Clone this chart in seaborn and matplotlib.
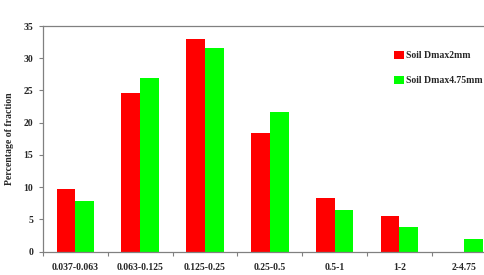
import matplotlib
matplotlib.use("Agg")
import matplotlib.pyplot as plt
import seaborn as sns
import pandas as pd
import numpy as np

categories = ["0.037-0.063", "0.063-0.125", "0.125-0.25", "0.25-0.5", "0.5-1", "1-2", "2-4.75"]
soil_2mm = [9.7, 24.6, 33.0, 18.4, 8.3, 5.6, 0.0]
soil_475mm = [7.9, 27.0, 31.6, 21.6, 6.5, 3.8, 2.0]
series_names = ["Soil Dmax2mm", "Soil Dmax4.75mm"]
y_ticks = [0, 5, 10, 15, 20, 25, 30, 35]

df = pd.DataFrame({
    "cat": categories * 2,
    "val": soil_2mm + soil_475mm,
    "series": [series_names[0]] * len(categories) + [series_names[1]] * len(categories),
})

sns.set_style("white")
plt.rcParams["font.family"] = ["Liberation Serif", "DejaVu Serif"]

fig = plt.figure(figsize=(4.84, 2.75), dpi=100)
ax = fig.add_axes([43 / 484, 1 - 251.7 / 275, 453.6 / 484, 225.7 / 275])

sns.barplot(data=df, x="cat", y="val", hue="series", order=categories,
            hue_order=series_names, palette=["#FF0000", "#00FF00"],
            width=0.58, saturation=1, linewidth=0, ax=ax, legend=True)

ax.set_xlim(-0.5, len(categories) - 0.5)
ax.set_ylim(0, 35)
ax.set_yticks(y_ticks)
ax.set_yticklabels([str(t) for t in y_ticks], fontsize=7, fontweight="bold")
ax.set_xticks(range(len(categories)))
ax.set_xticklabels(categories, fontsize=7, fontweight="bold")
ax.set_xticks(np.arange(-0.5, len(categories) + 0.5, 1), minor=True)
ax.tick_params(axis="x", which="major", length=0, pad=8)
ax.tick_params(axis="x", which="minor", length=3, width=0.8, color="#808080", direction="out", bottom=True)
ax.tick_params(axis="y", which="major", length=3, width=0.8, color="#808080", direction="out", left=True, pad=4)
ax.set_xlabel("")
ax.set_ylabel("Percentage of fraction", fontsize=7, fontweight="bold", labelpad=7)

for s in ax.spines.values():
    s.set_color("#808080")
    s.set_linewidth(0.9)

leg = ax.legend(loc="upper left", bbox_to_anchor=(0.755, 0.93), frameon=False,
                prop={"family": "Liberation Serif", "weight": "bold", "size": 7},
                handlelength=1.0, handleheight=1.0, handletextpad=0.2, labelspacing=1.6)

fig.savefig("out.png", dpi=100)
